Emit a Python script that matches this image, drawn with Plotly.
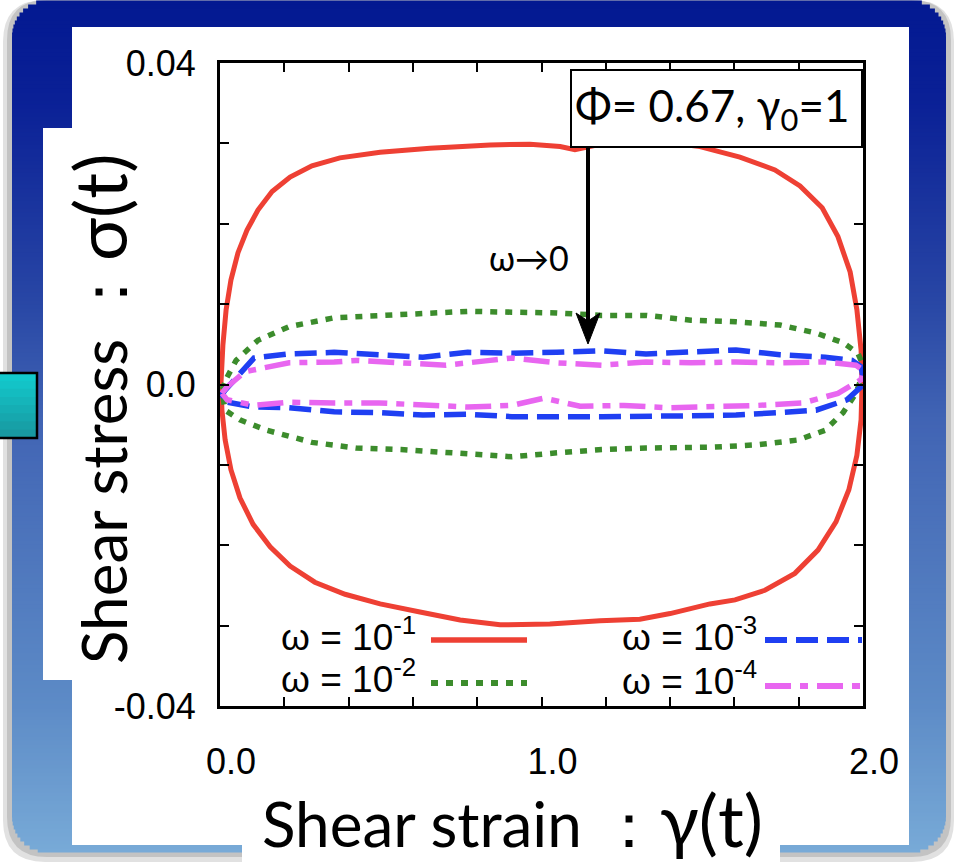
import math
import plotly.graph_objects as go

# ---------------- data ----------------
series_names = ["ω = 10<sup>-1</sup>", "ω = 10<sup>-2</sup>", "ω = 10<sup>-3</sup>", "ω = 10<sup>-4</sup>"]

w1_gamma = [0.003, 0.009, 0.019, 0.034, 0.056, 0.084, 0.118, 0.162, 0.218, 0.286, 0.373, 0.498, 0.653, 0.840,
            0.964, 1.058, 1.104, 1.166, 1.244, 1.369, 1.493, 1.617, 1.726, 1.804, 1.873, 1.922, 1.960, 1.981,
            1.994, 1.997,
            1.994, 1.981, 1.956, 1.916, 1.860, 1.788, 1.695, 1.602, 1.524, 1.400, 1.306, 1.182, 1.026, 0.871,
            0.747, 0.622, 0.498, 0.389, 0.295, 0.218, 0.156, 0.103, 0.062, 0.034, 0.016, 0.006, 0.003]
w1_sigma = [0.0001, 0.0049, 0.0093, 0.0130, 0.0164, 0.0192, 0.0217, 0.0240, 0.0258, 0.0272, 0.0282, 0.0289,
            0.0294, 0.0298, 0.0299, 0.0296, 0.0292, 0.0298, 0.0304, 0.0302, 0.0296, 0.0283, 0.0267, 0.0247,
            0.0220, 0.0184, 0.0140, 0.0093, 0.0043, 0.0000,
            -0.0044, -0.0088, -0.0131, -0.0171, -0.0206, -0.0235, -0.0256, -0.0268, -0.0273, -0.0285, -0.0292,
            -0.0294, -0.0298, -0.0299, -0.0293, -0.0283, -0.0273, -0.0261, -0.0246, -0.0226, -0.0202, -0.0174,
            -0.0141, -0.0106, -0.0069, -0.0032, 0.0001]

w2_gamma = [0.022, 0.050, 0.118, 0.215, 0.355, 0.523, 0.631, 0.771, 0.908, 1.048, 1.188, 1.325, 1.465, 1.605,
            1.742, 1.854, 1.938, 1.984, 2.000,
            2.000, 1.978, 1.938, 1.882, 1.798, 1.673, 1.533, 1.325, 1.188, 1.048, 0.908, 0.840, 0.703, 0.563,
            0.423, 0.286, 0.146, 0.062, 0.016, 0.006, 0.022]
w2_sigma = [0.0009, 0.0030, 0.0055, 0.0072, 0.0083, 0.0086, 0.0089, 0.0091, 0.0090, 0.0089, 0.0086, 0.0086, 0.0080,
            0.0078, 0.0074, 0.0064, 0.0052, 0.0039, 0.0024,
            0.0014, -0.0011, -0.0035, -0.0057, -0.0069, -0.0075, -0.0078, -0.0079, -0.0081, -0.0085, -0.0090,
            -0.0088, -0.0084, -0.0081, -0.0079, -0.0072, -0.0057, -0.0044, -0.0032, -0.0007, 0.0009]

w3_gamma = [0.000, 0.016, 0.106, 0.215, 0.355, 0.495, 0.631, 0.771, 0.908, 1.048, 1.188, 1.325, 1.465, 1.605,
            1.742, 1.882, 1.966, 1.994, 2.000,
            1.994, 1.950, 1.854, 1.742, 1.605, 1.465, 1.325, 1.188, 1.048, 0.908, 0.771, 0.631, 0.495, 0.355,
            0.215, 0.106, 0.022, 0.000]
w3_sigma = [-0.0016, -0.0007, 0.0033, 0.0038, 0.0040, 0.0037, 0.0034, 0.0040, 0.0039, 0.0040, 0.0042, 0.0038,
            0.0040, 0.0043, 0.0037, 0.0034, 0.0030, 0.0022, 0.0009,
            -0.0003, -0.0019, -0.0032, -0.0035, -0.0038, -0.0039, -0.0040, -0.0040, -0.0040, -0.0040, -0.0037,
            -0.0038, -0.0035, -0.0034, -0.0029, -0.0028, -0.0022, -0.0016]

w4_gamma = [0.006, 0.022, 0.078, 0.215, 0.355, 0.423, 0.563, 0.703, 0.840, 0.908, 1.048, 1.188, 1.325, 1.465,
            1.605, 1.742, 1.882, 1.978, 2.000,
            1.994, 1.922, 1.813, 1.673, 1.533, 1.397, 1.257, 1.120, 1.008, 0.908, 0.771, 0.631, 0.495, 0.355,
            0.215, 0.106, 0.022, 0.006]
w4_sigma = [-0.0011, -0.0003, 0.0016, 0.0027, 0.0028, 0.0030, 0.0027, 0.0024, 0.0030, 0.0033, 0.0027, 0.0024,
            0.0028, 0.0027, 0.0028, 0.0027, 0.0028, 0.0024, 0.0018,
            0.0006, -0.0011, -0.0023, -0.0026, -0.0028, -0.0029, -0.0026, -0.0027, -0.0017, -0.0026, -0.0028,
            -0.0026, -0.0023, -0.0023, -0.0022, -0.0026, -0.0019, -0.0011]

x_tickvals = [0, 1, 2]
x_ticktext = ["0.0", "1.0", "2.0"]
y_tickvals = [-0.04, 0, 0.04]
y_ticktext = ["-0.04", "0.0", "0.04"]

# ---------------- styles ----------------
colors = ["#ee4034", "#3c8c2c", "#1f3ff2", "#e866f0"]
dashes = ["solid", "7px,8px", "22px,9px", "26px,9px,8px,9px"]
widths = [5, 5.5, 5.5, 5.5]

FIG_W, FIG_H = 955, 865
L, R, T, B = 220, 863, 63, 706
PW, PH = R - L, B - T


def px(x):
    return (x - L) / PW


def py(y):
    return (B - y) / PH


fig = go.Figure()
series = [(w1_gamma, w1_sigma), (w2_gamma, w2_sigma), (w3_gamma, w3_sigma), (w4_gamma, w4_sigma)]
for (g, s), name, c, d, w in zip(series, series_names, colors, dashes, widths):
    fig.add_trace(go.Scatter(x=g, y=s, mode="lines", name=name, showlegend=False,
                             line=dict(color=c, width=w, dash=d, shape="linear")))

shapes = []


def rrect_path(x0, y0, x1, y1, r):
    pts = [("M", [(x0 + r, y0)]), ("L", [(x1 - r, y0)]), ("Q", [(x1, y0), (x1, y0 + r)]),
           ("L", [(x1, y1 - r)]), ("Q", [(x1, y1), (x1 - r, y1)]), ("L", [(x0 + r, y1)]),
           ("Q", [(x0, y1), (x0, y1 - r)]), ("L", [(x0, y0 + r)]), ("Q", [(x0, y0), (x0 + r, y0)])]
    out = ""
    for cmd, ps in pts:
        out += cmd + " ".join(f"{px(a):.5f},{py(b):.5f}" for a, b in ps) + " "
    return out + "Z"


# shadow of the slide frame
shapes.append(dict(type="path", xref="paper", yref="paper", layer="below",
                   path=rrect_path(3, 0, 954, 862, 42), fillcolor="rgb(225,225,225)", line=dict(width=0)))
shapes.append(dict(type="path", xref="paper", yref="paper", layer="below",
                   path=rrect_path(7, 0, 951, 857, 40), fillcolor="rgb(195,195,195)", line=dict(width=0)))

# gradient frame (horizontal strips)
stops = [(0, (3, 25, 145)), (100, (10, 32, 150)), (300, (40, 70, 165)), (420, (65, 100, 180)),
         (700, (92, 138, 198)), (852, (120, 170, 215))]


def col_at(y):
    for (ya, ca), (yb, cb) in zip(stops[:-1], stops[1:]):
        if ya <= y <= yb:
            t = (y - ya) / (yb - ya)
            return "rgb(%d,%d,%d)" % tuple(round(ca[i] + (cb[i] - ca[i]) * t) for i in range(3))
    return "rgb(%d,%d,%d)" % stops[-1][1]


FX0, FX1, FY0, FY1, FR = 12, 946, 1, 852, 36
step = 4
y = FY0
while y < FY1:
    y1 = min(y + step, FY1)
    ym = (y + y1) / 2
    inset = 0
    if ym < FY0 + FR:
        dy = FY0 + FR - ym
        inset = FR - math.sqrt(max(FR * FR - dy * dy, 0))
    elif ym > FY1 - FR:
        dy = ym - (FY1 - FR)
        inset = FR - math.sqrt(max(FR * FR - dy * dy, 0))
    shapes.append(dict(type="rect", xref="paper", yref="paper", layer="below",
                       x0=px(FX0 + inset), x1=px(FX1 - inset), y0=py(y - 0.5), y1=py(y1 + 0.5),
                       fillcolor=col_at(ym), line=dict(width=0)))
    y = y1

# teal square on the left
tq = [(373, (18, 205, 208)), (438, (24, 150, 158))]
n = 8
for i in range(n):
    ya = 373 + (438 - 373) * i / n
    yb = 373 + (438 - 373) * (i + 1) / n
    t = (i + 0.5) / n
    c = tuple(round(tq[0][1][k] + (tq[1][1][k] - tq[0][1][k]) * t) for k in range(3))
    shapes.append(dict(type="rect", xref="paper", yref="paper", layer="below",
                       x0=px(0), x1=px(37), y0=py(ya - 0.5), y1=py(yb + 0.5),
                       fillcolor="rgb(%d,%d,%d)" % c, line=dict(width=0)))
shapes.append(dict(type="rect", xref="paper", yref="paper", layer="below",
                   x0=px(-2), x1=px(37), y0=py(373), y1=py(438),
                   fillcolor="rgba(0,0,0,0)", line=dict(color="black", width=2.5)))

# white panels
for (x0, y0, x1, y1) in [(72, 27, 909, 845), (43, 128, 125, 680), (242, 790, 780, 866)]:
    shapes.append(dict(type="rect", xref="paper", yref="paper", layer="below",
                       x0=px(x0), x1=px(x1), y0=py(y0), y1=py(y1),
                       fillcolor="white", line=dict(width=0)))

# parameter box
shapes.append(dict(type="rect", xref="paper", yref="paper", layer="above",
                   x0=px(571), x1=px(862), y0=py(70), y1=py(147),
                   fillcolor="white", line=dict(color="black", width=2)))
# arrow omega -> 0
shapes.append(dict(type="line", xref="paper", yref="paper", layer="above",
                   x0=px(588), x1=px(588), y0=py(147), y1=py(322),
                   line=dict(color="black", width=4)))
shapes.append(dict(type="path", xref="paper", yref="paper", layer="above",
                   path=f"M{px(588)},{py(344)} L{px(576)},{py(313)} L{px(588)},{py(321)} L{px(600)},{py(313)} Z",
                   fillcolor="black", line=dict(color="black", width=1)))

# legend samples (gnuplot style: text then line)
leg_pos = [(431, 527, 640), (431, 527, 683), (765, 862, 640), (765, 862, 686)]
for (xa, xb, yy), c, d, w in zip(leg_pos, colors, dashes, widths):
    shapes.append(dict(type="line", xref="paper", yref="paper", layer="above",
                       x0=px(xa), x1=px(xb), y0=py(yy), y1=py(yy),
                       line=dict(color=c, width=w + 0.5, dash=d)))

annotations = []
leg_text_pos = [(418, 634), (418, 676), (759, 634), (759, 678)]
for (xr, yy), name in zip(leg_text_pos, series_names):
    annotations.append(dict(xref="paper", yref="paper", x=px(xr), y=py(yy), xanchor="right", yanchor="middle",
                            text=name, showarrow=False,
                            font=dict(family="Liberation Sans, Arial", size=37, color="black")))

annotations.append(dict(xref="paper", yref="paper", x=px(712), y=py(109), xanchor="center", yanchor="middle",
                        text="Φ= 0.67, γ<sub>0</sub>=1", showarrow=False,
                        font=dict(family="Lato", size=44, color="black")))
annotations.append(dict(xref="paper", yref="paper", x=px(529), y=py(257), xanchor="center", yanchor="middle",
                        text="ω→0", showarrow=False,
                        font=dict(family="Lato", size=34, color="black")))
annotations.append(dict(xref="paper", yref="paper", x=px(99), y=py(409), xanchor="center", yanchor="middle",
                        text="Shear stress ：<span style=\"font-size:72px\">σ(t)</span>", textangle=-90,
                        showarrow=False, font=dict(family="Lato", size=62, color="black")))
annotations.append(dict(xref="paper", yref="paper", x=px(512), y=py(819), xanchor="center", yanchor="middle",
                        text="Shear strain ：<span style=\"font-size:72px\">γ(t)</span>", showarrow=False,
                        font=dict(family="Lato", size=62, color="black")))

axis_common = dict(showgrid=False, zeroline=False, showline=True, linecolor="black", linewidth=3,
                   mirror="ticks", ticks="inside", ticklen=9, tickwidth=2, tickcolor="black",
                   tickfont=dict(family="Liberation Sans, Arial", size=36, color="black"))

fig.update_layout(
    width=FIG_W, height=FIG_H, autosize=False,
    margin=dict(l=L, r=FIG_W - R, t=T, b=FIG_H - B, pad=0),
    paper_bgcolor="white", plot_bgcolor="rgba(0,0,0,0)",
    showlegend=False,
    xaxis=dict(range=[0, 2], tickvals=x_tickvals, ticktext=x_ticktext,
               minor=dict(dtick=0.2, ticks="inside", ticklen=9, tickwidth=2, tickcolor="black"),
               ticklabelstandoff=22, ticklabelshift=11, **axis_common),
    yaxis=dict(range=[-0.04, 0.04], tickvals=y_tickvals, ticktext=y_ticktext,
               minor=dict(dtick=0.01, ticks="inside", ticklen=9, tickwidth=2, tickcolor="black"),
               ticklabelstandoff=14, **axis_common),
    shapes=shapes, annotations=annotations,
)

fig.write_html("out.html")
